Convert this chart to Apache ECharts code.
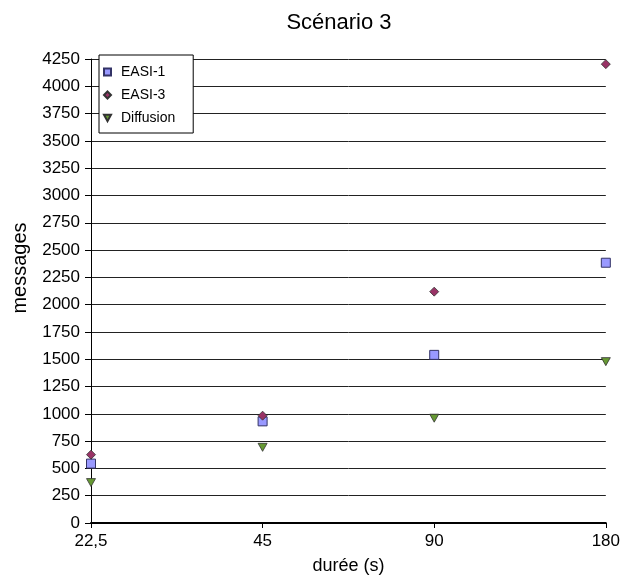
<!DOCTYPE html>
<html>
<head>
<meta charset="utf-8">
<script src="https://cdn.jsdelivr.net/npm/echarts@6/dist/echarts.min.js"></script>
<style>
  html, body { margin: 0; padding: 0; background: #fff; }
  #chart { width: 623px; height: 580px; }
</style>
</head>
<body>
<div id="chart"></div>
<script>
// Durations (s) on the x axis
const durees = ['22,5', '45', '90', '180'];
// Messages sent per protocol
const easi1 = [544, 931, 1540, 2384];
const easi3 = [626, 983, 2119, 4203];
const diffusion = [370, 693, 960, 1478];

const font = 'Liberation Sans, Arial, sans-serif';
// Downward-pointing triangle used for the Diffusion series
const downTriangle = 'path://M0,0 L10,0 L5,9 Z';

const chart = echarts.init(document.getElementById('chart'));
chart.setOption({
  animation: false,
  backgroundColor: '#fff',
  title: {
    text: 'Scénario 3',
    left: 334,
    top: 7,
    textAlign: 'center',
    textStyle: { fontFamily: font, fontSize: 22, fontWeight: 'normal', color: '#000' }
  },
  grid: { left: 91, right: 16, top: 59, bottom: 56.5, containLabel: false },
  legend: {
    orient: 'vertical',
    left: 99,
    top: 55,
    backgroundColor: '#fff',
    borderColor: '#000',
    borderWidth: 1,
    borderRadius: 0,
    padding: [10, 18, 8, 4],
    itemGap: 9,
    itemWidth: 7,
    itemHeight: 7,
    textStyle: { fontFamily: font, fontSize: 14, color: '#000', padding: [0, 0, 0, 5] },
    data: [
      { name: 'EASI-1', icon: 'rect' },
      { name: 'EASI-3', icon: 'diamond' },
      { name: 'Diffusion', icon: downTriangle }
    ]
  },
  xAxis: {
    type: 'category',
    data: durees,
    boundaryGap: false,
    name: 'durée (s)',
    nameLocation: 'middle',
    nameGap: 34,
    nameTextStyle: { fontFamily: font, fontSize: 18, color: '#000' },
    axisLine: { lineStyle: { color: '#000', width: 2 } },
    axisTick: { show: true, length: 5, alignWithLabel: true, lineStyle: { color: '#000' } },
    axisLabel: { fontFamily: font, fontSize: 17, color: '#000', margin: 10 },
    splitLine: { show: false }
  },
  yAxis: {
    type: 'value',
    min: 0,
    max: 4250,
    interval: 250,
    name: 'messages',
    nameLocation: 'middle',
    nameGap: 61,
    nameTextStyle: { fontFamily: font, fontSize: 20, color: '#000', padding: [0, 0, 0, 46] },
    axisLine: { show: true, lineStyle: { color: '#000', width: 1 } },
    axisTick: { show: true, length: 6, lineStyle: { color: '#000' } },
    axisLabel: { fontFamily: font, fontSize: 17, color: '#000', margin: 11, formatter: v => String(v) },
    splitLine: { show: true, lineStyle: { color: '#222', width: 1 } }
  },
  series: [
    {
      name: 'EASI-1',
      type: 'scatter',
      symbol: 'rect',
      symbolSize: 9,
      itemStyle: { color: '#9999ff', borderColor: '#333366', borderWidth: 1, opacity: 1 },
      data: easi1
    },
    {
      name: 'EASI-3',
      type: 'scatter',
      symbol: 'diamond',
      symbolSize: 9,
      itemStyle: { color: '#993366', borderColor: '#333333', borderWidth: 0.8, opacity: 1 },
      data: easi3
    },
    {
      name: 'Diffusion',
      type: 'scatter',
      symbol: downTriangle,
      symbolSize: [9, 8],
      itemStyle: { color: '#669933', borderColor: '#333333', borderWidth: 0.8, opacity: 1 },
      data: diffusion
    }
  ]
});
</script>
</body>
</html>
